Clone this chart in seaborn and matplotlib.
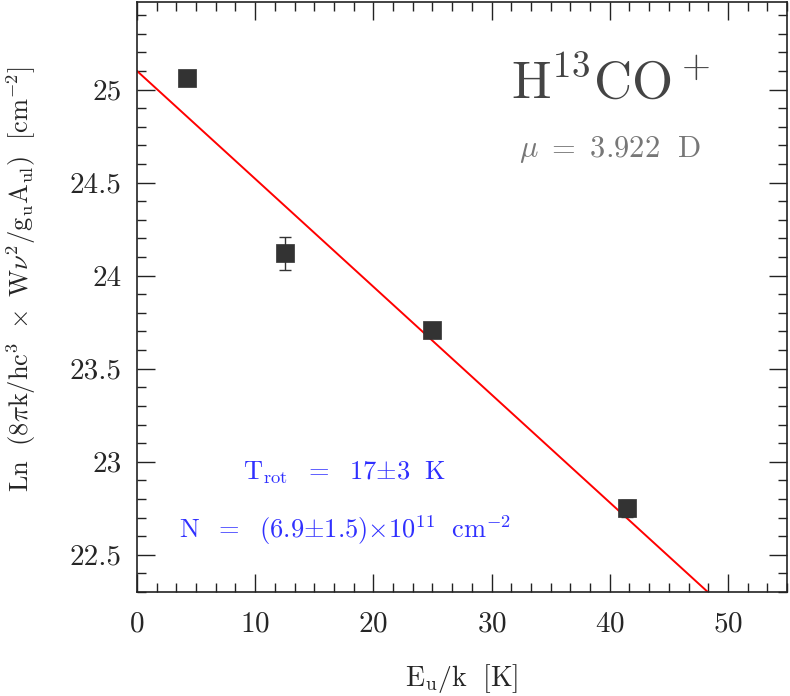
import numpy as np
import pandas as pd
import seaborn as sns
import matplotlib.pyplot as plt
from matplotlib.ticker import MultipleLocator

# rotational diagram points
eu_k = [4.2, 12.5, 25.0, 41.5]
ln_n = [25.06, 24.12, 23.71, 22.75]
ln_err = [0.0, 0.09, 0.02, 0.045]

# fit parameters
fit_intercept = 25.10
t_rot = 17.25
fit_x = [0.0, 55.0]

sns.set_style("ticks")
plt.rcParams["font.family"] = ["cmr10", "DejaVu Serif"]
plt.rcParams["mathtext.fontset"] = "cm"
plt.rcParams["axes.formatter.use_mathtext"] = True

df = pd.DataFrame({"Eu": eu_k, "LnN": ln_n})
fit = pd.DataFrame({"Eu": fit_x})
fit["LnN"] = fit_intercept - fit["Eu"] / t_rot

fig = plt.figure(figsize=(7.9, 6.96), dpi=100)
ax = fig.add_axes([0.1734, 0.1494, 0.8228, 0.8476])

sns.lineplot(data=fit, x="Eu", y="LnN", color="red", linewidth=1.4, ax=ax)
ax.errorbar(eu_k, ln_n, yerr=ln_err, fmt="none", ecolor="#333333",
            elinewidth=1.0, capsize=4, capthick=1.0, zorder=3)
sns.scatterplot(data=df, x="Eu", y="LnN", marker="s", s=150, color="#333333",
                edgecolor="#333333", linewidth=0.5, zorder=4, ax=ax)

ax.set_xlim(0, 55)
ax.set_ylim(22.3, 25.47)
ax.xaxis.set_major_locator(MultipleLocator(10))
ax.xaxis.set_minor_locator(MultipleLocator(10 / 6))
ax.yaxis.set_major_locator(MultipleLocator(0.5))
ax.yaxis.set_minor_locator(MultipleLocator(0.1))
ax.yaxis.set_major_formatter(plt.FuncFormatter(lambda v, p: f"{v:g}"))
ax.tick_params(which="both", direction="in", top=True, right=True,
               color="#222222", width=1.0)
ax.tick_params(which="major", length=13)
ax.tick_params(which="minor", length=6.5)
ax.tick_params(axis="x", which="major", pad=14, labelsize=21)
ax.tick_params(axis="y", which="major", pad=11, labelsize=21)
for s in ax.spines.values():
    s.set_color("#222222")
    s.set_linewidth(1.2)

ax.set_xlabel(r"$\mathrm{E_u/k\ \ [K]}$", fontsize=20)
ax.xaxis.set_label_coords(0.5, -0.118)
ax.set_ylabel(r"$\mathrm{Ln\ \ (8\pi k/hc^3\ \times\ W\nu^2/g_uA_{ul})\ \ [cm^{-2}]}$",
              fontsize=19)
ax.yaxis.set_label_coords(-0.152, 0.53)

ax.text(0.728, 0.864, r"$\mathrm{H^{13}CO^+}$", transform=ax.transAxes,
        ha="center", va="center", fontsize=38, color="#444444")
ax.text(0.728, 0.75, r"$\mu\ =\ \mathrm{3.922\ \ D}$", transform=ax.transAxes,
        ha="center", va="center", fontsize=22, color="#777777")
ax.text(0.32, 0.203, r"$\mathrm{T_{rot}\ \ =\ \ 17{\pm}3\ \ K}$", transform=ax.transAxes,
        ha="center", va="center", fontsize=19, color="#3030ff")
ax.text(0.32, 0.105, r"$\mathrm{N\ \ =\ \ (6.9{\pm}1.5){\times}10^{11}\ \ cm^{-2}}$",
        transform=ax.transAxes, ha="center", va="center", fontsize=19, color="#3030ff")

fig.savefig("out.png", dpi=100)
